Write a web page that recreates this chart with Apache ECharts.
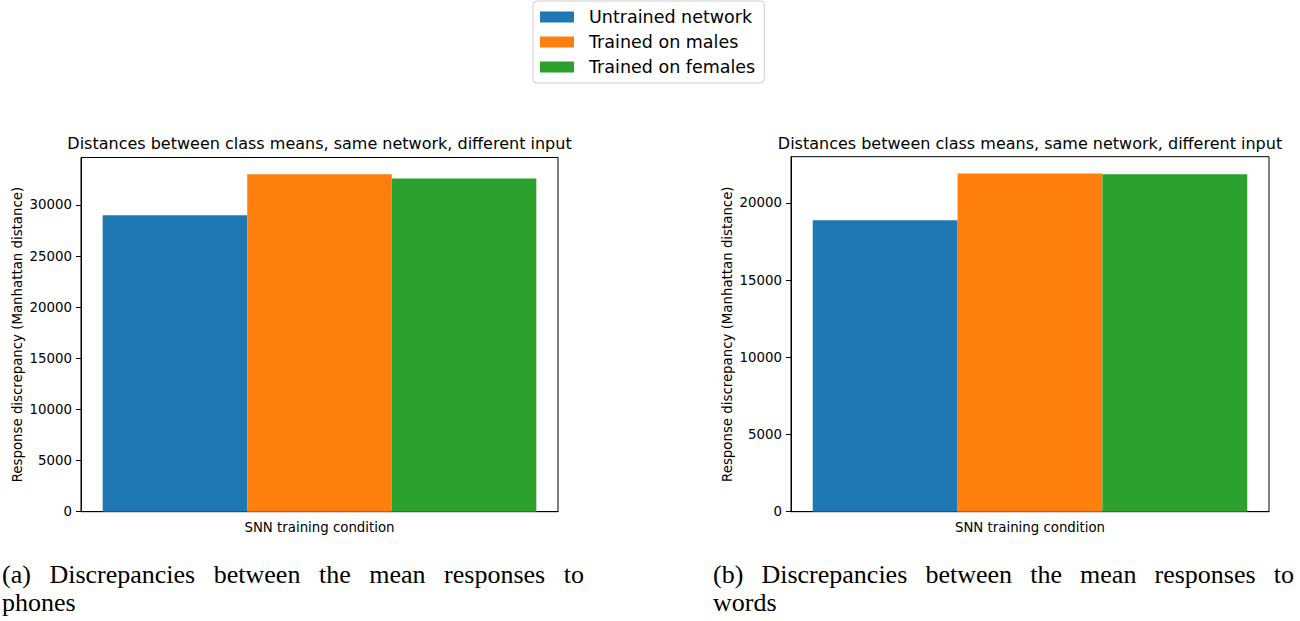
<!DOCTYPE html>
<html>
<head>
<meta charset="utf-8">
<script src="https://cdn.jsdelivr.net/npm/echarts@6/dist/echarts.min.js"></script>
<style>
  html, body { margin: 0; padding: 0; background: #fff; }
  #chart { position: absolute; left: 0; top: 0; width: 1300px; height: 621px; }
  .caption {
    position: absolute;
    font-family: "Liberation Serif", "DejaVu Serif", serif;
    font-size: 26px;
    line-height: 28px;
    color: #000;
  }
  .caption .full {
    text-align: justify;
    text-align-last: justify;
  }
</style>
</head>
<body>
<div id="chart"></div>
<div class="caption" id="capA" style="left:2px; top:561px; width:582px;"></div>
<div class="caption" id="capB" style="left:713px; top:561px; width:581px;"></div>
<script>
// Training conditions (one bar each, in legend order)
const conditions = ['Untrained network', 'Trained on males', 'Trained on females'];
const barColors = ['#1f77b4', '#ff7f0e', '#2ca02c'];

// Manhattan distance between class means, responses to phones
const phonesValues = [28990, 32990, 32580];
// Manhattan distance between class means, responses to words
const wordsValues = [18880, 21900, 21860];

const xCategory = ['SNN training condition'];
const phonesTicks = [0, 5000, 10000, 15000, 20000, 25000, 30000];
const wordsTicks = [0, 5000, 10000, 15000, 20000];

const panelTitle = 'Distances between class means, same network, different input';
const yName = 'Response discrepancy (Manhattan distance)';
const captionA = ['(a) Discrepancies between the mean responses to', 'phones'];
const captionB = ['(b) Discrepancies between the mean responses to', 'words'];

// Caption: justified first line, ragged last line
function fillCaption(id, lines) {
  const box = document.getElementById(id);
  lines.forEach(function (line, i) {
    const d = document.createElement('div');
    if (i < lines.length - 1) d.className = 'full';
    d.textContent = line;
    box.appendChild(d);
  });
}
fillCaption('capA', captionA);
fillCaption('capB', captionB);

const FONT = 'DejaVu Sans';
const FS = 13.33;
const grids = [
  { left: 81, right: 742, top: 157.5, bottom: 109.3 },
  { left: 791, right: 31, top: 156.7, bottom: 109.3 }
];

function xAxisFor(i) {
  return {
    type: 'category',
    gridIndex: i,
    data: xCategory,
    axisLine: { lineStyle: { color: '#000', width: 1 } },
    axisTick: { alignWithLabel: true, length: 5, lineStyle: { color: '#000' } },
    axisLabel: { color: '#000', fontFamily: FONT, fontSize: FS, margin: 9 },
    splitLine: { show: false }
  };
}

function yAxisFor(i, ticks) {
  return {
    type: 'value',
    gridIndex: i,
    min: 0,
    max: function (v) { return v.max * 1.05; },
    interval: 5000,
    name: yName,
    nameLocation: 'middle',
    nameGap: 57,
    nameTextStyle: { color: '#000', fontFamily: FONT, fontSize: FS },
    axisLine: { show: true, lineStyle: { color: '#000', width: 1 } },
    axisTick: { show: true, length: 5, customValues: ticks, lineStyle: { color: '#000' } },
    axisLabel: {
      color: '#000', fontFamily: FONT, fontSize: FS, margin: 9, customValues: ticks,
      formatter: function (v) { return String(v); }
    },
    splitLine: { show: false }
  };
}

function seriesFor(i, values) {
  return conditions.map(function (name, k) {
    return {
      type: 'bar',
      name: name,
      xAxisIndex: i,
      yAxisIndex: i,
      data: [values[k]],
      barGap: '0%',
      barCategoryGap: '9.09%',
      itemStyle: { color: barColors[k] }
    };
  });
}

const chart = echarts.init(document.getElementById('chart'), null, { renderer: 'svg' });
chart.setOption({
  animation: false,
  textStyle: { fontFamily: FONT },
  grid: grids.map(function (g) {
    return Object.assign({ show: true, borderColor: '#000', borderWidth: 1, backgroundColor: '#fff', containLabel: false }, g);
  }),
  legend: {
    data: conditions,
    orient: 'vertical',
    left: 533,
    top: 1,
    padding: [6, 9, 6, 7],
    itemWidth: 34,
    itemHeight: 11,
    itemGap: 5,
    icon: 'rect',
    backgroundColor: '#fff',
    borderColor: '#cccccc',
    borderWidth: 1,
    borderRadius: 4,
    textStyle: { color: '#000', fontFamily: FONT, fontSize: 17.5, lineHeight: 20, padding: [0, 0, 0, 10] }
  },
  graphic: [
    { type: 'text', x: 319.5, y: 143, style: { text: panelTitle, font: '16px "DejaVu Sans"', fill: '#000', textAlign: 'center', textVerticalAlign: 'middle' } },
    { type: 'text', x: 1030, y: 143, style: { text: panelTitle, font: '16px "DejaVu Sans"', fill: '#000', textAlign: 'center', textVerticalAlign: 'middle' } }
  ],
  xAxis: [xAxisFor(0), xAxisFor(1)],
  yAxis: [yAxisFor(0, phonesTicks), yAxisFor(1, wordsTicks)],
  series: seriesFor(0, phonesValues).concat(seriesFor(1, wordsValues))
});
</script>
</body>
</html>
